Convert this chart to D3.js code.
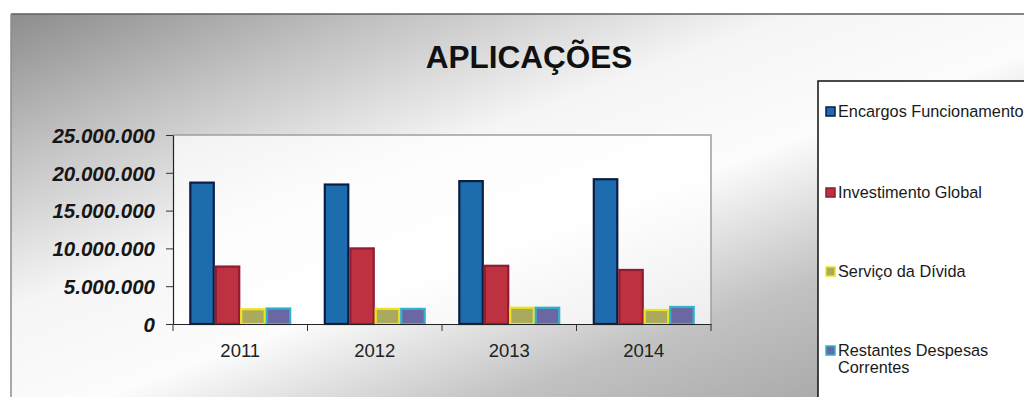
<!DOCTYPE html>
<html>
<head>
<meta charset="utf-8">
<script src="https://cdn.jsdelivr.net/npm/d3@7"></script>
<style>
  body { margin: 0; background: #ffffff; }
  svg { display: block; font-family: "Liberation Sans", Arial, sans-serif; }
</style>
</head>
<body>
<svg id="chart" width="1024" height="397"></svg>
<script>
// chart data
var years = ["2011", "2012", "2013", "2014"];
var seriesNames = ["Encargos Funcionamento", "Investimento Global", "Serviço da Dívida", "Restantes Despesas Correntes"];
var encargos = [18700000, 18450000, 18900000, 19150000];
var investimento = [7600000, 10000000, 7700000, 7150000];
var servico = [1950000, 2000000, 2150000, 1850000];
var restantes = [2050000, 2000000, 2150000, 2250000];
var yTicks = [0, 5000000, 10000000, 15000000, 20000000, 25000000];

var seriesValues = [encargos, investimento, servico, restantes];
var fills = ["#1d6cae", "#bd3140", "#a9aa5e", "#6a67a2"];
var strokes = ["#0c1d44", "#8e1d31", "#f0e21e", "#2fb2cf"];

var svg = d3.select("#chart");
var margin = { top: 135, right: 313, bottom: 73, left: 173 };
var plotRight = 1024 - margin.right;
var plotBottom = 397 - margin.bottom;

// slide background
var defs = svg.append("defs");
var grad = defs.append("linearGradient")
  .attr("id", "bg")
  .attr("gradientUnits", "userSpaceOnUse")
  .attr("x1", 0).attr("y1", 0)
  .attr("x2", 256).attr("y2", 684);
[[0, "#868686"], [0.2, "#c0c0c0"], [0.4, "#f5f5f5"], [0.56, "#fcfcfc"], [0.75, "#c2c2c2"], [1, "#9c9c9c"]]
  .forEach(function(s) {
    grad.append("stop").attr("offset", s[0]).attr("stop-color", s[1]);
  });

svg.append("rect").attr("width", 1024).attr("height", 397).attr("fill", "#ffffff");
svg.append("rect")
  .attr("x", 11).attr("y", 14)
  .attr("width", 1013).attr("height", 383)
  .attr("fill", "url(#bg)");
svg.append("line").attr("x1", 11).attr("x2", 1024).attr("y1", 14).attr("y2", 14)
  .attr("stroke", "#5e5e5e").attr("stroke-width", 1.5);
svg.append("line").attr("x1", 11).attr("x2", 11).attr("y1", 14).attr("y2", 397)
  .attr("stroke", "#8c8c8c").attr("stroke-width", 1.5);

// title
svg.append("text")
  .attr("x", 529).attr("y", 68)
  .attr("text-anchor", "middle")
  .attr("font-size", "31.5px")
  .attr("font-weight", "700")
  .attr("fill", "#111")
  .text("APLICAÇÕES");

// scales
var x = d3.scaleBand().domain(years).range([margin.left, plotRight]);
var xSub = d3.scaleBand().domain(d3.range(seriesNames.length))
  .range([0, x.bandwidth()]).paddingOuter(0.64);
var y = d3.scaleLinear().domain([0, 25000000]).range([plotBottom, margin.top]);

// plot area
svg.append("rect")
  .attr("x", margin.left).attr("y", margin.top)
  .attr("width", plotRight - margin.left).attr("height", plotBottom - margin.top)
  .attr("fill", "#ffffff").attr("fill-opacity", 0.72);
svg.append("path")
  .attr("d", "M" + margin.left + "," + margin.top + "H" + plotRight + "V" + plotBottom)
  .attr("fill", "none").attr("stroke", "#9e9e9e").attr("stroke-width", 1.5);

// bars
var groups = svg.append("g").selectAll("g")
  .data(years)
  .enter().append("g")
  .attr("transform", function(d) { return "translate(" + x(d) + ",0)"; });

groups.selectAll("rect")
  .data(function(d, i) { return seriesValues.map(function(s, k) { return { k: k, v: s[i] }; }); })
  .enter().append("rect")
  .attr("x", function(d) { return xSub(d.k) + 1; })
  .attr("y", function(d) { return y(d.v); })
  .attr("width", xSub.bandwidth() - 2)
  .attr("height", function(d) { return y(0) - y(d.v); })
  .attr("fill", function(d) { return fills[d.k]; })
  .attr("stroke", function(d) { return strokes[d.k]; })
  .attr("stroke-width", 2.2);

// y axis
var fmt = d3.formatLocale({ decimal: ",", thousands: ".", grouping: [3], currency: ["", ""] }).format(",");
var yAxis = svg.append("g")
  .attr("transform", "translate(" + margin.left + ",0)")
  .call(d3.axisLeft(y).tickValues(yTicks).tickFormat(fmt).tickSize(7).tickSizeOuter(0));
yAxis.select(".domain").attr("stroke", "#222").attr("stroke-width", 1.2);
yAxis.selectAll(".tick line").attr("stroke", "#333");
yAxis.selectAll(".tick text")
  .attr("x", -18)
  .attr("dy", "0.36em")
  .attr("font-size", "20.5px")
  .attr("font-weight", "700")
  .attr("font-style", "italic")
  .attr("font-family", "'Liberation Sans', Arial, sans-serif")
  .attr("fill", "#161616");

// x axis
var xAxis = svg.append("g")
  .attr("transform", "translate(0," + plotBottom + ")")
  .call(d3.axisBottom(x).tickSize(0).tickSizeOuter(0));
xAxis.select(".domain").attr("stroke", "#222").attr("stroke-width", 1.2);
xAxis.selectAll(".tick text")
  .attr("y", 20)
  .attr("dy", "0.71em")
  .attr("font-size", "18.5px")
  .attr("font-family", "'Liberation Sans', Arial, sans-serif")
  .attr("fill", "#222");
xAxis.selectAll(".sep")
  .data(years.map(function(d) { return x(d); }).concat([plotRight]))
  .enter().append("line")
  .attr("class", "sep")
  .attr("x1", function(d) { return d; }).attr("x2", function(d) { return d; })
  .attr("y1", 0).attr("y2", 7)
  .attr("stroke", "#333");

// legend
svg.append("rect")
  .attr("x", 818).attr("y", 81)
  .attr("width", 230).attr("height", 340)
  .attr("fill", "#ffffff")
  .attr("stroke", "#111").attr("stroke-width", 1.5);

var legendBase = [117, 198, 277, 356];
var legend = svg.append("g").selectAll("g")
  .data(seriesNames)
  .enter().append("g")
  .attr("transform", function(d, i) { return "translate(826," + legendBase[i] + ")"; });

legend.append("rect")
  .attr("x", 0).attr("y", -10)
  .attr("width", 9).attr("height", 9)
  .attr("fill", function(d, i) { return fills[i]; })
  .attr("stroke", function(d, i) { return strokes[i]; })
  .attr("stroke-width", 1.5);

legend.append("text")
  .attr("x", 12).attr("y", 0)
  .attr("font-size", "16.3px")
  .attr("fill", "#1a1a1a")
  .each(function(d) {
    var t = d3.select(this);
    var parts = d === "Restantes Despesas Correntes" ? ["Restantes Despesas", "Correntes"] : [d];
    parts.forEach(function(p, j) {
      t.append("tspan").attr("x", 12).attr("dy", j === 0 ? 0 : 17).text(p);
    });
  });
</script>
</body>
</html>
